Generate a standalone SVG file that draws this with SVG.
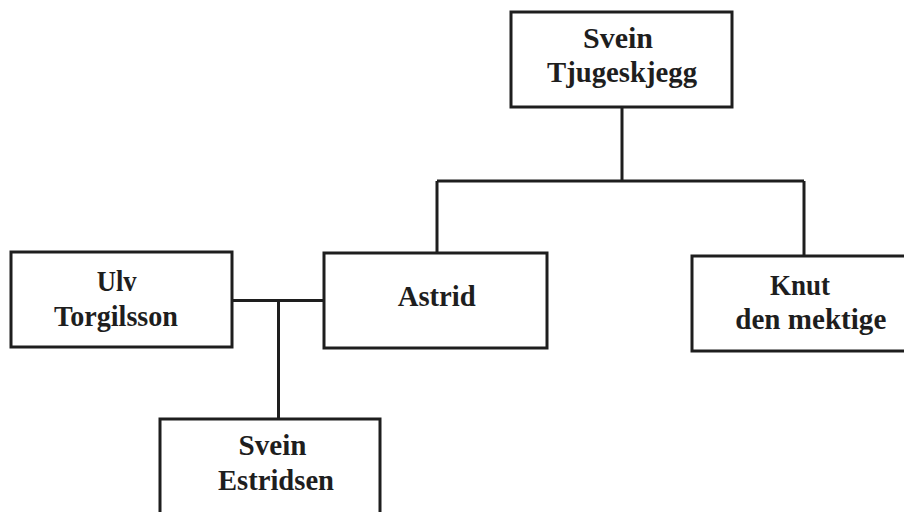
<svg xmlns="http://www.w3.org/2000/svg" width="904" height="512" viewBox="0 0 904 512">
<style>
.box{fill:#fff;stroke:#1e1e1e;stroke-width:3}
.t{font-family:"Liberation Serif","Times New Roman",serif;font-weight:bold;font-size:30px;fill:#1e1e1e;text-anchor:middle}
.c{fill:none;stroke:#1e1e1e;stroke-width:3}
</style>
<rect width="904" height="512" fill="#fff"/>
<g id="connectors">
<path class="c" d="M622 107V181M437 181H804M437 181V253M804 181V256"/>
<path class="c" d="M232 300.5H324M278.5 300.5V419"/>
</g>
<g id="svein-tjugeskjegg">
<rect class="box" x="511" y="12" width="221" height="95"/>
<text class="t" x="618" y="47.5" textLength="70" lengthAdjust="spacingAndGlyphs">Svein</text>
<text class="t" x="622" y="82" textLength="150" lengthAdjust="spacingAndGlyphs">Tjugeskjegg</text>
</g>
<g id="ulv-torgilsson">
<rect class="box" x="11" y="252" width="221" height="95"/>
<text class="t" x="116.7" y="291" textLength="40" lengthAdjust="spacingAndGlyphs">Ulv</text>
<text class="t" x="116" y="326" textLength="124" lengthAdjust="spacingAndGlyphs">Torgilsson</text>
</g>
<g id="astrid">
<rect class="box" x="324" y="253" width="223" height="95"/>
<text class="t" x="436.7" y="305.5" textLength="78" lengthAdjust="spacingAndGlyphs">Astrid</text>
</g>
<g id="knut">
<rect class="box" x="692" y="256" width="222" height="95"/>
<text class="t" x="800" y="294.5" textLength="60" lengthAdjust="spacingAndGlyphs">Knut</text>
<text class="t" x="810.8" y="329" textLength="151" lengthAdjust="spacingAndGlyphs">den mektige</text>
</g>
<g id="svein-estridsen">
<rect class="box" x="160" y="419" width="220" height="95"/>
<text class="t" x="272.5" y="455" textLength="68" lengthAdjust="spacingAndGlyphs">Svein</text>
<text class="t" x="276" y="490" textLength="116" lengthAdjust="spacingAndGlyphs">Estridsen</text>
</g>
</svg>
